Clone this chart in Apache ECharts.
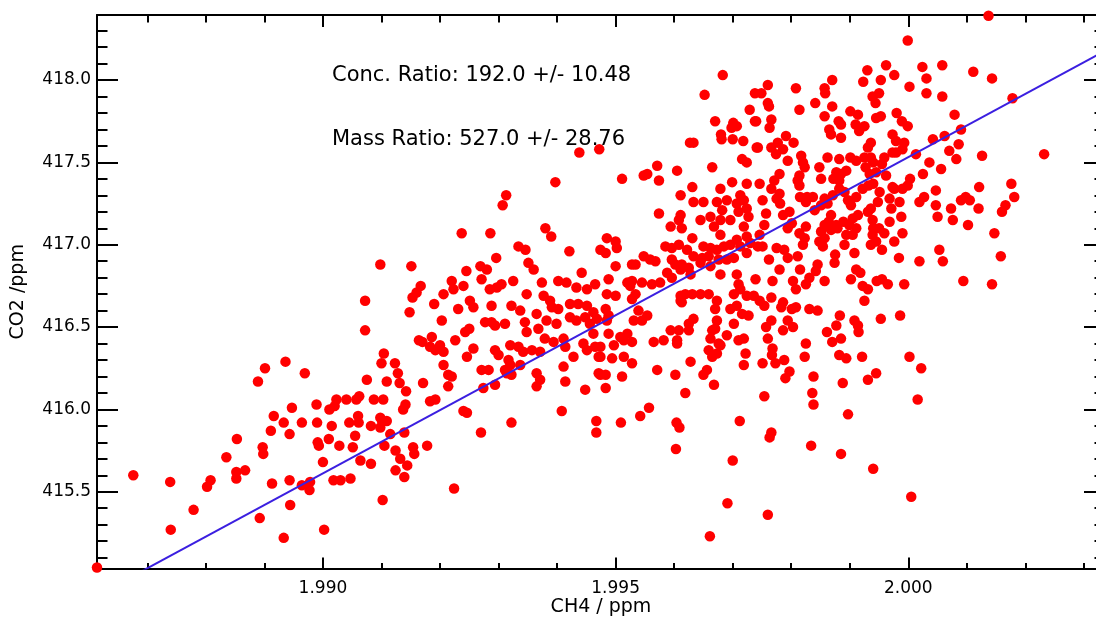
<!DOCTYPE html>
<html><head><meta charset="utf-8">
<script src="https://cdn.jsdelivr.net/npm/echarts@6/dist/echarts.min.js"></script>
<style>html,body{margin:0;padding:0;background:#fff;overflow:hidden;width:1096px;height:617px;}#chart{width:1106px;height:617px;}</style>
</head><body><div id="chart"></div>
<script>
// ---- axis ranges and tick label formats ----
const ch4Range = [1.98614, 2.00336];
const co2Range = [415.034, 418.395];
const xLabelDigits = [3];
const yLabelDigits = [1];
const axisTitles = ['CH4 / ppm', 'CO2 /ppm'];

// ---- fit and ratio annotations ----
const ratioNames = ['Conc. Ratio', 'Mass Ratio'];
const ratioValues = [192.0, 527.0];
const ratioErrors = [10.48, 28.76];
const fitIntercept = [33.5316];

// ---- observations [CH4, CO2] ----
const lowLeftPoints = [
[1.98614,415.04],
[1.98676,415.60],[1.98739,415.56],[1.98740,415.27],[1.98779,415.39],[1.98802,415.53],[1.98808,415.57],
[1.98835,415.71],[1.98853,415.82],[1.98852,415.62],[1.98852,415.58],[1.98867,415.63],[1.98892,415.34],
[1.98897,415.77],[1.98898,415.73],[1.98911,415.87],[1.98913,415.55],[1.98933,415.22],[1.98933,415.92],
[1.98943,415.85],[1.98943,415.57],[1.98944,415.42],[1.98964,415.92],[1.98964,415.54],[1.98978,415.56],
[1.98977,415.51],[1.98990,415.92],[1.98991,415.80],[1.98993,415.78],[1.99000,415.68],[1.99002,415.27],
[1.99010,415.82],[1.99015,415.90],[1.99018,415.57],[1.99030,415.57],[1.99028,415.78],[1.99045,415.92],
[1.99061,415.92],[1.99047,415.58],[1.99051,415.77],[1.99055,415.84],[1.99064,415.69],[1.99082,415.90],
[1.99082,415.67],[1.99098,415.89],[1.99101,415.93],[1.99109,415.93],[1.99102,415.45],[1.99105,415.78],
[1.99115,415.85],[1.99124,415.75],[1.99132,415.70],[1.99124,415.63],[1.99139,415.86],[1.99139,415.59],
[1.99144,415.66],[1.99154,415.77],[1.99156,415.73],[1.99178,415.78],[1.99224,415.52],[1.99270,415.86],
[1.99072,416.66],[1.99153,416.68],[1.99160,416.71],[1.99148,416.59],[1.99072,416.48],
[1.99164,416.42],[1.99170,416.41],[1.99104,416.34],[1.99100,416.28],
[1.99123,416.28],[1.99128,416.22],[1.99131,416.16],[1.99142,416.11],[1.99109,416.17],[1.99075,416.18],
[1.99171,416.16],[1.98936,416.29],[1.98901,416.25],[1.98889,416.17],[1.98969,416.22],
[1.98947,416.01],[1.98916,415.96],[1.98989,416.03],[1.99011,416.00],[1.99020,416.02],[1.99023,416.06],
[1.99040,416.06],[1.99057,416.06],[1.99062,416.08],[1.99087,416.06],[1.99103,416.06],[1.99137,416.00],
[1.99141,416.03],[1.99060,415.96],[1.99098,415.95]
];
const upperMiddlePoints = [
[1.99683,418.03],[1.99652,417.91],[1.99738,417.92],[1.99729,417.82],[1.99670,417.75],[1.99701,417.74],
[1.99707,417.72],[1.99698,417.71],[1.99738,417.75],[1.99680,417.67],[1.99681,417.64],[1.99700,417.64],
[1.99718,417.63],[1.99633,417.62],[1.99627,417.62],[1.99741,417.59],[1.99472,417.58],[1.99438,417.56],
[1.99397,417.38],[1.99313,417.30],[1.99307,417.24],[1.99421,416.96],[1.99442,416.83],[1.99380,417.10],
[1.99390,417.05],[1.99334,416.99],[1.99346,416.97],[1.99351,416.89],[1.99360,416.85],[1.99296,416.92],
[1.99286,417.07],[1.99237,417.07],[1.99269,416.87],[1.99280,416.85],[1.99245,416.84],[1.99167,416.75],
[1.99151,416.87],[1.99098,416.88],
[1.99571,417.48],[1.99548,417.42],[1.99554,417.43],[1.99574,417.39],[1.99605,417.45],[1.99511,417.40],
[1.99665,417.47],[1.99716,417.52],[1.99724,417.50],
[1.99631,417.35],[1.99611,417.30],[1.99699,417.38],[1.99724,417.37],[1.99679,417.34],[1.99713,417.30],
[1.99690,417.27],[1.99673,417.26],[1.99650,417.26],[1.99633,417.26],[1.99574,417.19],[1.99611,417.18],
[1.99608,417.15],[1.99613,417.10],[1.99594,417.11],[1.99645,417.15],[1.99631,417.04],[1.99662,417.17],
[1.99668,417.11],[1.99679,417.15],[1.99682,417.21],[1.99696,417.15],[1.99707,417.25],[1.99710,417.20],
[1.99724,417.22],[1.99719,417.27],[1.99727,417.17],[1.99719,417.11],[1.99724,417.05],
[1.99485,417.04],[1.99500,417.02],[1.99502,416.98],[1.99474,416.97],[1.99483,416.95],[1.99585,416.99],
[1.99596,416.98],[1.99608,417.00],[1.99622,416.97],[1.99633,416.93],[1.99650,416.99],[1.99662,416.98],
[1.99673,416.97],[1.99685,416.99],[1.99696,417.00],[1.99707,417.03],[1.99713,416.99],[1.99730,417.01],
[1.99679,417.06],[1.99648,416.92],[1.99659,416.93],[1.99548,416.93],[1.99559,416.91],[1.99568,416.90],
[1.99528,416.88],[1.99534,416.88],[1.99500,416.87],[1.99596,416.91],[1.99602,416.88],[1.99613,416.88],
[1.99625,416.86],[1.99645,416.89],[1.99662,416.87],[1.99676,416.91],[1.99690,416.91],[1.99702,416.92],
[1.99724,416.95],
[1.99488,416.79],[1.99520,416.77],[1.99525,416.75],[1.99528,416.78],[1.99562,416.76],[1.99576,416.77],
[1.99588,416.83],[1.99596,416.80],[1.99611,416.85],[1.99628,416.82],[1.99679,416.82],[1.99707,416.82],
[1.99710,416.76],[1.99739,416.79],[1.99545,416.77]
];
const centralPoints = [
[1.99220,416.78],[1.99240,416.75],[1.99271,416.79],[1.99285,416.73],[1.99297,416.74],[1.99305,416.76],
[1.99325,416.78],[1.99374,416.77],[1.99402,416.78],[1.99416,416.77],[1.99433,416.74],[1.99451,416.73],
[1.99465,416.76],[1.99206,416.70],[1.99223,416.73],
[1.99190,416.64],[1.99251,416.66],[1.99257,416.62],[1.99288,416.63],[1.99322,416.63],[1.99337,416.60],
[1.99348,416.70],[1.99377,416.69],[1.99388,416.66],[1.99391,416.62],[1.99402,416.61],[1.99422,416.64],
[1.99436,416.64],[1.99451,416.63],[1.99462,416.59],[1.99231,416.61],
[1.99203,416.54],[1.99277,416.53],[1.99288,416.53],[1.99294,416.51],[1.99311,416.52],[1.99345,416.53],
[1.99365,416.58],[1.99382,416.54],[1.99399,416.52],[1.99422,416.56],[1.99433,416.54],[1.99448,416.56],
[1.99456,416.52],[1.99468,416.55],[1.99485,416.54],[1.99243,416.47],[1.99250,416.49],[1.99348,416.47],
[1.99368,416.49],
[1.99186,416.44],[1.99226,416.42],[1.99183,416.38],[1.99200,416.39],[1.99206,416.35],[1.99192,416.36],
[1.99257,416.37],[1.99246,416.32],[1.99294,416.36],[1.99300,416.33],[1.99320,416.39],[1.99334,416.38],
[1.99342,416.35],[1.99357,416.36],[1.99371,416.35],[1.99379,416.43],[1.99394,416.41],[1.99411,416.43],
[1.99414,416.38],[1.99428,416.32],[1.99445,416.40],[1.99451,416.36],[1.99465,416.38],[1.99471,416.32],
[1.99462,416.46],
[1.99206,416.27],[1.99214,416.21],[1.99220,416.20],[1.99271,416.24],[1.99283,416.24],[1.99311,416.24],
[1.99317,416.30],[1.99320,416.27],[1.99337,416.27],[1.99365,416.22],[1.99371,416.18],[1.99411,416.26],
[1.99471,416.22],
[1.99214,416.14],[1.99274,416.13],[1.99294,416.15],[1.99314,416.22],[1.99322,416.21],[1.99365,416.14],
[1.99414,416.17],[1.99448,416.12],[1.99192,416.06],[1.99183,416.05],
[1.99240,415.99],[1.99246,415.98],[1.99408,415.99],
[1.99534,416.70],[1.99528,416.67],[1.99485,416.70],[1.99500,416.69],[1.99611,416.69],[1.99619,416.70],
[1.99631,416.70],[1.99645,416.70],[1.99659,416.70],[1.99673,416.66],[1.99702,416.70],[1.99713,416.73],
[1.99736,416.69],
[1.99483,416.61],[1.99488,416.57],[1.99539,416.60],[1.99554,416.57],[1.99531,416.54],[1.99545,416.54],
[1.99611,416.66],[1.99613,416.65],[1.99670,416.61],[1.99696,416.61],[1.99707,416.63],[1.99716,416.58],
[1.99727,416.57],[1.99724,416.69],
[1.99633,416.55],[1.99625,416.52],[1.99673,416.54],[1.99670,416.49],[1.99702,416.52],[1.99594,416.48],
[1.99608,416.48],[1.99625,416.48],[1.99665,416.48],[1.99488,416.46],[1.99508,416.44],[1.99520,416.46],
[1.99497,416.39],[1.99514,416.42],[1.99528,416.41],[1.99565,416.41],[1.99582,416.42],[1.99605,416.42],
[1.99605,416.40],[1.99662,416.43],[1.99676,416.40],[1.99690,416.45],[1.99710,416.42],[1.99719,416.43],
[1.99659,416.36],[1.99665,416.32],[1.99673,416.34],[1.99679,416.39],[1.99722,416.34],[1.99474,416.38],
[1.99474,416.32],[1.99494,416.31],[1.99514,416.32],
[1.99528,416.28],[1.99628,416.29],[1.99656,416.24],[1.99650,416.21],[1.99602,416.21],[1.99571,416.24],
[1.99719,416.27],[1.99483,416.21],[1.99474,416.21],[1.99511,416.20],
[1.99483,416.13],[1.99668,416.15],[1.99619,416.10],[1.99557,416.01],[1.99542,415.96]
];
const lowMiddlePoints = [
[1.99322,415.92],[1.99467,415.93],[1.99467,415.86],[1.99509,415.92],[1.99604,415.92],[1.99609,415.89],
[1.99603,415.76],[1.99712,415.93],[1.99700,415.69],[1.99691,415.43],[1.99661,415.23]
];
const upperRightPoints = [
[2.00137,418.39],[1.99999,418.24],[1.99930,418.06],[1.99962,418.09],[1.99976,418.03],[1.99953,418.00],
[1.99923,417.99],[1.99870,418.00],[1.99857,417.95],[1.99858,417.92],[1.99808,417.95],[1.99760,417.97],
[1.99749,417.92],[1.99760,417.86],[1.99762,417.84],[1.99814,417.82],[1.99841,417.86],[1.99870,417.84],
[2.00024,418.08],[2.00058,418.09],[2.00031,418.01],[2.00002,417.96],[2.00031,417.92],[2.00058,417.90],
[2.00111,418.05],[2.00143,418.01],[2.00079,417.79],[2.00178,417.89],[1.99901,417.81],[1.99914,417.79],
[1.99857,417.78],[1.99881,417.75],[1.99885,417.73],[1.99910,417.73],[1.99925,417.72],[1.99945,417.77],
[1.99953,417.78],[1.99944,417.86],[1.99939,417.90],[1.99950,417.92],[1.99980,417.80],[1.99989,417.75],
[1.99999,417.72],[1.99740,417.75],[1.99766,417.76],[1.99763,417.71],[1.99865,417.70],[1.99868,417.67],
[1.99885,417.65],[1.99916,417.69],[1.99936,417.62],[1.99931,417.59],[1.99973,417.67],[1.99979,417.63],
[1.99993,417.62],[1.99990,417.58],[1.99979,417.56],[1.99791,417.66],[1.99804,417.62],[1.99777,417.62],
[1.99766,417.59],[1.99743,417.59],[1.99786,417.58],[1.99794,417.51],[1.99774,417.55],[1.99817,417.54],
[1.99820,417.50],[1.99823,417.47],[1.99848,417.47],[1.99862,417.53],[1.99882,417.52],[1.99901,417.53],
[1.99911,417.51],[1.99925,417.53],[1.99936,417.53],[1.99940,417.50],[1.99955,417.49],[1.99959,417.53],
[1.99973,417.56],[2.00013,417.55],[2.00042,417.64],[2.00062,417.66],[2.00090,417.70],[2.00070,417.57],
[2.00082,417.52],[2.00086,417.61],[2.00036,417.50],[2.00056,417.46],[2.00025,417.43],[2.00003,417.40],
[1.99999,417.36],[1.99990,417.34],[1.99973,417.35],[1.99962,417.42],[1.99945,417.44],[1.99934,417.43],
[1.99927,417.47],[1.99894,417.45],[1.99885,417.43],[1.99877,417.44],[1.99882,417.39],[1.99872,417.40],
[1.99851,417.40],[1.99814,417.42],[1.99811,417.39],[1.99814,417.36],[1.99780,417.43],[1.99771,417.39],
[1.99746,417.37],[1.99766,417.34],[1.99780,417.31],[1.99775,417.28],[1.99751,417.27],[1.99757,417.19],
[1.99754,417.12],[1.99746,417.06],[1.99743,416.99],[1.99781,417.25],[1.99786,417.18],[1.99797,417.20],
[1.99801,417.13],[1.99794,417.10],[1.99815,417.29],[1.99827,417.29],[1.99837,417.29],[1.99825,417.26],
[1.99840,417.21],[1.99851,417.24],[1.99862,417.25],[1.99857,417.28],[1.99871,417.30],[1.99882,417.34],
[1.99891,417.32],[1.99897,417.27],[1.99902,417.24],[1.99911,417.29],[1.99922,417.34],[1.99932,417.36],
[1.99940,417.37],[1.99951,417.32],[1.99948,417.26],[1.99968,417.28],[1.99976,417.34],[1.99985,417.26],
[1.99971,417.22],[1.99936,417.22],[1.99931,417.20],[1.99914,417.18],[1.99905,417.16],[1.99899,417.12],
[1.99889,417.14],[1.99877,417.12],[1.99868,417.18],[1.99864,417.14],[1.99857,417.12],[1.99851,417.08],
[1.99857,417.04],[1.99848,417.02],[1.99854,416.99],[1.99868,417.09],[1.99879,417.10],[1.99894,417.06],
[1.99905,417.06],[1.99911,417.10],[1.99939,417.15],[1.99940,417.10],[1.99950,417.10],[1.99959,417.07],
[1.99968,417.14],[1.99988,417.17],[1.99990,417.07],[1.99939,417.06],[1.99936,417.00],[1.99945,417.02],
[1.99955,416.97],[1.99976,417.02],[1.99984,416.92],[1.99891,417.00],[1.99908,416.95],[1.99911,416.85],
[1.99918,416.83],[1.99875,416.94],[1.99874,416.89],[1.99845,416.88],[1.99842,416.84],[1.99831,416.80],
[1.99825,416.76],[1.99815,416.85],[1.99803,416.78],[1.99808,416.73],[1.99768,416.78],[1.99780,416.85],
[1.99762,416.91],[1.99751,416.99],[1.99775,416.98],[1.99788,416.97],[1.99794,416.92],[1.99811,416.93],
[1.99820,417.00],[1.99823,417.04],[1.99814,417.07],[1.99825,417.11],[1.99857,416.78],[1.99902,416.79],
[1.99922,416.75],[1.99931,416.73],[1.99946,416.78],[1.99955,416.79],[1.99965,416.76],[1.99993,416.76],
[2.00019,416.90],[2.00019,417.26],[2.00027,417.29],[2.00047,417.33],[2.00047,417.24],[2.00050,417.17],
[2.00073,417.22],[2.00076,417.15],[2.00090,417.27],[2.00098,417.29],[2.00105,417.27],[2.00120,417.22],
[2.00121,417.35],[2.00102,417.12],[2.00147,417.07],[2.00158,416.93],[2.00176,417.37],[2.00181,417.29],
[2.00166,417.24],[2.00160,417.20],[2.00053,416.97],[2.00059,416.90],[2.00094,416.78],[2.00143,416.76],
[2.00232,417.55],[2.00126,417.54]
];
const lowRightPoints = [
[1.99746,416.66],[1.99754,416.63],[1.99766,416.68],[1.99786,416.65],[1.99783,416.62],[1.99801,416.61],
[1.99808,416.62],[1.99831,416.61],[1.99845,416.60],[1.99925,416.66],[1.99766,416.54],[1.99757,416.50],
[1.99760,416.43],[1.99786,416.48],[1.99794,416.54],[1.99803,416.50],[1.99768,416.37],[1.99767,416.33],
[1.99751,416.28],[1.99773,416.28],[1.99788,416.30],[1.99797,416.23],[1.99790,416.19],[1.99754,416.08],
[1.99766,415.86],[1.99763,415.83],[1.99760,415.36],[1.99825,416.40],[1.99823,416.32],[1.99838,416.20],
[1.99836,416.10],[1.99838,416.03],[1.99834,415.78],[1.99861,416.47],[1.99870,416.41],[1.99877,416.51],
[1.99883,416.57],[1.99885,416.43],[1.99882,416.33],[1.99894,416.31],[1.99888,416.16],[1.99897,415.97],
[1.99885,415.73],[1.99908,416.54],[1.99914,416.51],[1.99915,416.47],[1.99921,416.32],[1.99931,416.18],
[1.99945,416.22],[1.99953,416.55],[1.99986,416.57],[2.00002,416.32],[2.00022,416.25],[2.00016,416.06],
[1.99940,415.64],[2.00005,415.47]
];

const points = [].concat(lowLeftPoints, upperMiddlePoints, centralPoints, lowMiddlePoints, upperRightPoints, lowRightPoints);
const fitLine = ch4Range.map(x => [x, ratioValues[0] * x + fitIntercept[0]]);

const FONT = '"DejaVu Sans", sans-serif';
const black = '#000';

function xAxisDef(pos) {
  const bottom = pos === 'bottom';
  return {
    type: 'value', position: pos, min: ch4Range[0], max: ch4Range[1], splitNumber: 3,
    name: bottom ? axisTitles[0] : '', nameLocation: 'middle', nameGap: 29, nameMoveOverlap: false,
    nameTextStyle: {fontFamily: FONT, fontSize: 19, color: black},
    axisLine: {show: true, onZero: false, lineStyle: {color: black, width: 2}},
    axisTick: {show: true, inside: true, length: bottom ? 11 : 12, lineStyle: {color: black, width: 2}},
    minorTick: {show: true, splitNumber: 5, length: bottom ? 5.5 : 7.5, lineStyle: {color: black, width: 2}},
    axisLabel: {show: bottom, showMinLabel: false, showMaxLabel: false, margin: 12,
      formatter: v => v.toFixed(xLabelDigits[0]), fontFamily: FONT, fontSize: 17, color: black},
    splitLine: {show: false}, minorSplitLine: {show: false}
  };
}
function yAxisDef(pos) {
  const left = pos === 'left';
  return {
    type: 'value', position: pos, min: co2Range[0], max: co2Range[1], splitNumber: 6,
    name: left ? axisTitles[1] : '', nameLocation: 'middle', nameGap: 69, nameMoveOverlap: false,
    nameTextStyle: {fontFamily: FONT, fontSize: 19, color: black},
    axisLine: {show: true, onZero: false, lineStyle: {color: black, width: 2}},
    axisTick: {show: true, inside: true, length: 21, lineStyle: {color: black, width: 2}},
    minorTick: {show: true, splitNumber: 5, length: 10.5, lineStyle: {color: black, width: 2}},
    axisLabel: {show: left, showMinLabel: false, showMaxLabel: false, margin: 6,
      formatter: v => v.toFixed(yLabelDigits[0]), fontFamily: FONT, fontSize: 17, color: black},
    splitLine: {show: false}, minorSplitLine: {show: false}
  };
}

const chart = echarts.init(document.getElementById('chart'), null, {renderer: 'canvas'});
chart.setOption({
  animation: false,
  backgroundColor: '#fff',
  grid: {left: 97, right: 1, top: 15, bottom: 48.5, containLabel: false, outerBoundsMode: 'none'},
  xAxis: [xAxisDef('bottom'), xAxisDef('top')],
  yAxis: [yAxisDef('left'), yAxisDef('right')],
  series: [
    {type: 'scatter', xAxisIndex: 0, yAxisIndex: 0, data: points, symbol: 'circle', symbolSize: 10.5,
     itemStyle: {color: '#ff0000', opacity: 1}, clip: true, silent: true, z: 2},
    {type: 'line', xAxisIndex: 0, yAxisIndex: 0, data: fitLine, showSymbol: false, symbol: 'none',
     lineStyle: {color: '#3b1fe0', width: 2}, clip: true, silent: true, z: 3}
  ],
  graphic: ratioNames.map((n, i) => ({
    type: 'text', x: 332, y: [76, 140][i], z: 10,
    style: {text: n + ': ' + ratioValues[i].toFixed(1) + ' +/- ' + ratioErrors[i].toFixed(2),
      fill: black, font: '21px ' + FONT, verticalAlign: 'middle', align: 'left'}
  }))
});
</script></body></html>
